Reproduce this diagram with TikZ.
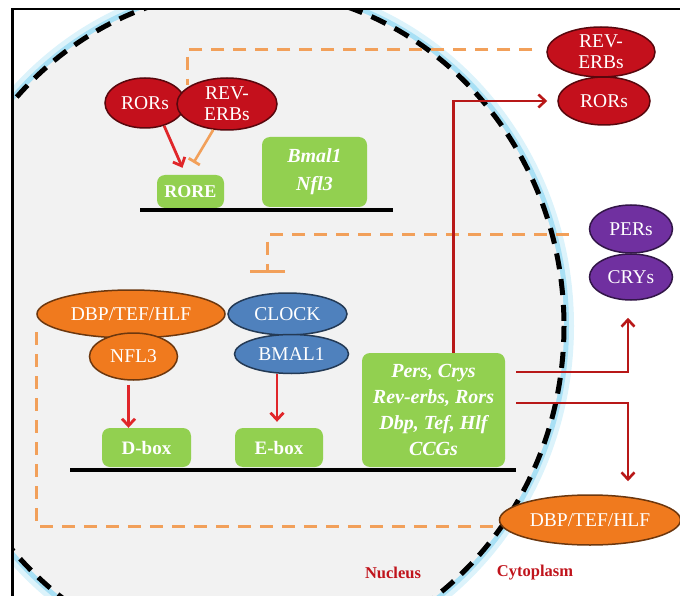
\documentclass[tikz,border=0pt]{standalone}
\usepackage{fontspec}
\setmainfont{Liberation Serif}
\usetikzlibrary{shapes.geometric,arrows.meta}
\definecolor{rorred}{HTML}{C4101C}
\definecolor{perpurp}{HTML}{7030A0}
\definecolor{dbporange}{HTML}{F07A1E}
\definecolor{clkblue}{HTML}{4F81BD}
\definecolor{genegreen}{HTML}{92D050}
\definecolor{dashorange}{HTML}{F2A05A}
\definecolor{actred}{HTML}{E0262A}
\definecolor{expred}{HTML}{B81818}
\definecolor{nucgray}{HTML}{F2F2F2}
\definecolor{glowblue}{HTML}{A8E0F5}
\definecolor{lblred}{HTML}{C0141C}
\begin{document}
\begin{tikzpicture}[x=1pt,y=-1pt]
        \tikzset{prot/.style={ellipse,draw=#1!45!black,fill=#1,line width=1.5pt,inner sep=0pt,text=white,align=center,font=\fontsize{19.5}{21}\selectfont}}
        \tikzset{gene/.style={fill=genegreen,rounded corners=8pt,inner sep=0pt,text=white,align=center,font=\bfseries\fontsize{18}{20}\selectfont}}
        \tikzset{act/.style={draw=actred,line width=2.8pt,-{Straight Barb[length=7pt,width=13pt]}}}
        \tikzset{expr/.style={draw=expred,line width=2.6pt,-{Straight Barb[length=7pt,width=13pt]}}}
        \tikzset{repr/.style={draw=dashorange,line width=3pt,dash pattern=on 13pt off 9pt}}
        \tikzset{dna/.style={line width=4.5pt}}

        \useasboundingbox (0,0) rectangle (680,596);

        % nucleus
        \begin{scope}
            \clip (12,9) rectangle (680,596);
            \draw[glowblue!40,line width=16pt] (248,326) ellipse [x radius=318, y radius=338];
            \draw[glowblue,line width=8pt] (248,326) ellipse [x radius=317, y radius=337];
            \fill[nucgray] (248,326) ellipse [x radius=316, y radius=336];
            \draw[line width=5pt,dash pattern=on 16pt off 10pt] (248,326) ellipse [x radius=316, y radius=336];
        \end{scope}
        \draw[line width=2.5pt] (12.5,596) -- (12.5,9) -- (680,9);

        % genes
        \node[gene,minimum width=67pt,minimum height=33pt] (rore) at (190.5,191.5) {RORE};
        \node[gene,minimum width=105pt,minimum height=70pt,font=\bfseries\itshape\fontsize{20}{28}\selectfont] (bmal) at (314.5,172) {Bmal1\\Nfl3};
        \node[gene,minimum width=89pt,minimum height=39pt,font=\bfseries\fontsize{19}{20}\selectfont] (dbox) at (146.5,447.5) {D-box};
        \node[gene,minimum width=88pt,minimum height=39pt,font=\bfseries\fontsize{19}{20}\selectfont] (ebox) at (279,447.5) {E-box};
        \node[gene,minimum width=143pt,minimum height=114pt,font=\bfseries\itshape\fontsize{20}{26}\selectfont] (ccg) at (433.5,410) {Pers, Crys\\Rev-erbs, Rors\\Dbp, Tef, Hlf\\CCGs};
        \draw[dna] (140,210) -- (393,210);
        \draw[dna] (70,470) -- (516,470);

        % proteins in the cytoplasm
        \node[prot=rorred,minimum width=108pt,minimum height=50pt] (revC) at (601,52) {REV-\\ERBs};
        \node[prot=rorred,minimum width=92pt,minimum height=48pt] (rorsC) at (604,101) {RORs};
        \node[prot=perpurp,minimum width=83pt,minimum height=48pt] (pers) at (631,229) {PERs};
        \node[prot=perpurp,minimum width=83pt,minimum height=46pt] (crys) at (631,277) {CRYs};

        % repression
        \coordinate (ebar) at (267.5,273);
        \draw[repr] ([xshift=-14pt,yshift=2pt]revC.west) -| (187,85);
        \draw[repr,-{Bar[width=35pt,line width=3pt]}] ([xshift=-20pt,yshift=-6pt]pers.west) -| (ebar);

        % proteins in the nucleus
        \node[prot=rorred,minimum width=80pt,minimum height=50pt] (rorsN) at (145,103) {RORs};
        \node[prot=rorred,minimum width=100pt,minimum height=52pt] (revN) at (227,104) {REV-\\ERBs};
        \node[prot=dbporange,minimum width=188pt,minimum height=48pt] (dbpN) at (131,314) {DBP/TEF/HLF};
        \node[prot=dbporange,minimum width=88pt,minimum height=47pt] (nfl) at (133.5,356.5) {NFL3};
        \node[prot=clkblue,minimum width=119pt,minimum height=42pt] (clock) at (287.5,314) {CLOCK};
        \node[prot=clkblue,minimum width=114pt,minimum height=39pt] (bmal1) at (291.5,354) {BMAL1};

        \draw[repr] ([yshift=-18pt]dbpN.west) |- (499.5,526);
        \node[prot=dbporange,minimum width=181pt,minimum height=50pt] (dbpC) at (590,520) {DBP/TEF/HLF};

        % activation
        \coordinate (db) at ([xshift=-18pt]dbox.north);
        \coordinate (eb) at ([xshift=-2pt]ebox.north);
        \draw[act] (rorsN.-50) -- ([xshift=-8pt,yshift=7pt]rore.north);
        \draw[draw=dashorange,line width=2.6pt,-{Bar[width=13pt,line width=2.8pt]}] (revN.-118) -- ([xshift=3pt,yshift=12pt]rore.north);
        \draw[act,shorten <=4pt] (db |- nfl.south) -- (db);
        \draw[act,shorten >=6pt] (eb |- bmal1.south) -- (eb);

        % expression
        \draw[expr,shorten >=10pt] ([xshift=20pt]ccg.north) |- (rorsC.west);
        \draw[expr,shorten >=17pt] ([xshift=11pt,yshift=38pt]ccg.east) -| ([xshift=-3pt]crys.south);
        \draw[expr,shorten >=13pt] ([xshift=11pt,yshift=7pt]ccg.east) -| ([xshift=38pt]dbpC.north);

        \node[text=lblred,font=\bfseries\fontsize{16.5}{18}\selectfont] (nuc) at (393,573) {Nucleus};
        \node[text=lblred,font=\bfseries\fontsize{16.5}{18}\selectfont] (cyto) at (535,573) {Cytoplasm};
    \end{tikzpicture}
\end{document}
